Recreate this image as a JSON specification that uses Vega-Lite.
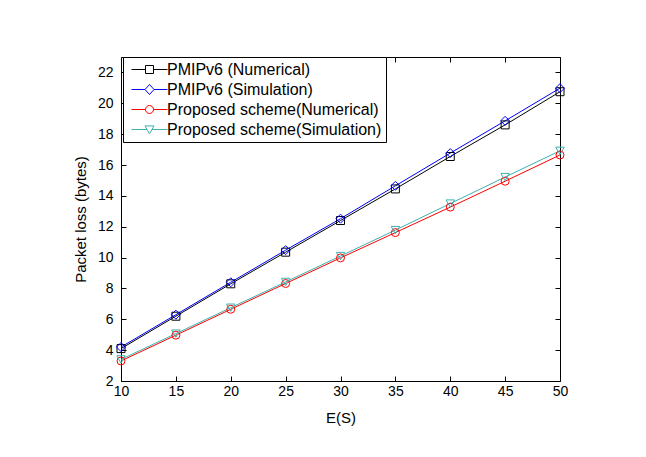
{
  "$schema": "https://vega.github.io/schema/vega-lite/v6.json",
  "width": 439,
  "height": 324,
  "autosize": "none",
  "padding": {"left": 121, "top": 57, "right": 86, "bottom": 76},
  "background": "white",
  "config": {
    "view": {"stroke": null},
    "font": "Liberation Sans",
    "axis": {
      "grid": false,
      "domainColor": "#000000",
      "tickColor": "#000000",
      "labelColor": "#000000",
      "titleColor": "#000000",
      "labelFont": "Liberation Sans",
      "titleFont": "Liberation Sans",
      "labelFontSize": 14,
      "titleFontSize": 15,
      "titleFontWeight": "normal",
      "tickSize": -5,
      "domainWidth": 1,
      "tickWidth": 1,
      "labelFlush": false
    }
  },
  "data": {
    "values": [
      {"E": 10, "loss": 4.1, "series": "PMIPv6 (Numerical)"},
      {"E": 15, "loss": 6.2, "series": "PMIPv6 (Numerical)"},
      {"E": 20, "loss": 8.3, "series": "PMIPv6 (Numerical)"},
      {"E": 25, "loss": 10.35, "series": "PMIPv6 (Numerical)"},
      {"E": 30, "loss": 12.4, "series": "PMIPv6 (Numerical)"},
      {"E": 35, "loss": 14.45, "series": "PMIPv6 (Numerical)"},
      {"E": 40, "loss": 16.55, "series": "PMIPv6 (Numerical)"},
      {"E": 45, "loss": 18.6, "series": "PMIPv6 (Numerical)"},
      {"E": 50, "loss": 20.75, "series": "PMIPv6 (Numerical)"},
      {"E": 10, "loss": 4.2, "series": "PMIPv6 (Simulation)"},
      {"E": 15, "loss": 6.3, "series": "PMIPv6 (Simulation)"},
      {"E": 20, "loss": 8.4, "series": "PMIPv6 (Simulation)"},
      {"E": 25, "loss": 10.48, "series": "PMIPv6 (Simulation)"},
      {"E": 30, "loss": 12.52, "series": "PMIPv6 (Simulation)"},
      {"E": 35, "loss": 14.65, "series": "PMIPv6 (Simulation)"},
      {"E": 40, "loss": 16.77, "series": "PMIPv6 (Simulation)"},
      {"E": 45, "loss": 18.86, "series": "PMIPv6 (Simulation)"},
      {"E": 50, "loss": 20.98, "series": "PMIPv6 (Simulation)"},
      {"E": 10, "loss": 3.3, "series": "Proposed scheme(Numerical)"},
      {"E": 15, "loss": 4.97, "series": "Proposed scheme(Numerical)"},
      {"E": 20, "loss": 6.65, "series": "Proposed scheme(Numerical)"},
      {"E": 25, "loss": 8.32, "series": "Proposed scheme(Numerical)"},
      {"E": 30, "loss": 9.98, "series": "Proposed scheme(Numerical)"},
      {"E": 35, "loss": 11.62, "series": "Proposed scheme(Numerical)"},
      {"E": 40, "loss": 13.27, "series": "Proposed scheme(Numerical)"},
      {"E": 45, "loss": 14.95, "series": "Proposed scheme(Numerical)"},
      {"E": 50, "loss": 16.65, "series": "Proposed scheme(Numerical)"},
      {"E": 10, "loss": 3.4, "series": "Proposed scheme(Simulation)"},
      {"E": 15, "loss": 5.07, "series": "Proposed scheme(Simulation)"},
      {"E": 20, "loss": 6.75, "series": "Proposed scheme(Simulation)"},
      {"E": 25, "loss": 8.42, "series": "Proposed scheme(Simulation)"},
      {"E": 30, "loss": 10.1, "series": "Proposed scheme(Simulation)"},
      {"E": 35, "loss": 11.78, "series": "Proposed scheme(Simulation)"},
      {"E": 40, "loss": 13.5, "series": "Proposed scheme(Simulation)"},
      {"E": 45, "loss": 15.22, "series": "Proposed scheme(Simulation)"},
      {"E": 50, "loss": 16.92, "series": "Proposed scheme(Simulation)"}
    ]
  },
  "layer": [
    {
      "mark": {"type": "line", "strokeWidth": 1},
      "encoding": {
        "x": {
          "field": "E", "type": "quantitative",
          "scale": {"domain": [10, 50], "nice": false, "zero": false},
          "axis": {"orient": "bottom", "values": [10, 15, 20, 25, 30, 35, 40, 45, 50], "title": "E(S)", "labelPadding": 8, "titlePadding": 12}
        },
        "y": {
          "field": "loss", "type": "quantitative",
          "scale": {"domain": [2, 23], "nice": false, "zero": false},
          "axis": {"orient": "left", "values": [2, 4, 6, 8, 10, 12, 14, 16, 18, 20, 22], "title": "Packet loss (bytes)", "labelPadding": 13, "titlePadding": 9}
        },
        "color": {
          "field": "series", "type": "nominal",
          "scale": {
            "domain": ["PMIPv6 (Numerical)", "PMIPv6 (Simulation)", "Proposed scheme(Numerical)", "Proposed scheme(Simulation)"],
            "range": ["#000000", "#0000ff", "#ff0000", "#3fb0b0"]
          },
          "legend": {
            "orient": "none",
            "legendX": 2,
            "legendY": 0,
            "title": null,
            "strokeColor": "#000000",
            "fillColor": "#ffffff",
            "padding": 4,
            "cornerRadius": 0,
            "labelFont": "Liberation Sans",
            "labelFontSize": 16,
            "labelColor": "#000000",
            "labelLimit": 0,
            "labelOffset": 9,
            "symbolOffset": 14,
            "symbolSize": 256,
            "symbolStrokeWidth": 1,
            "symbolFillColor": "#ffffff",
            "symbolOpacity": 1,
            "rowPadding": 3
          }
        }
      }
    },
    {
      "mark": {"type": "point", "filled": false, "strokeWidth": 1, "opacity": 0},
      "encoding": {
        "x": {
          "field": "E", "type": "quantitative",
          "axis": {"orient": "top", "values": [10, 15, 20, 25, 30, 35, 40, 45, 50], "labels": false, "title": null}
        },
        "y": {
          "field": "loss", "type": "quantitative",
          "axis": {"orient": "right", "values": [2, 4, 6, 8, 10, 12, 14, 16, 18, 20, 22], "labels": false, "title": null}
        },
        "color": {"field": "series", "type": "nominal"},
        "shape": {
          "field": "series", "type": "nominal",
          "scale": {
            "domain": ["PMIPv6 (Numerical)", "PMIPv6 (Simulation)", "Proposed scheme(Numerical)", "Proposed scheme(Simulation)"],
            "range": [
              "M-2.25,0H-0.5M0.5,0H2.25M-0.5,-0.5H0.5V0.5H-0.5Z",
              "M-2.25,0H-0.5625M0.5625,0H2.25M-0.5625,0L0,-0.625L0.5625,0L0,0.625Z",
              "M-2.25,0H-0.5M0.5,0H2.25M-0.5,0A0.5,0.5,0,1,0,0.5,0A0.5,0.5,0,1,0,-0.5,0Z",
              "M-2.25,0H-0.31M0.31,0H2.25M-0.5625,-0.45H0.5625L0,0.55Z"
            ]
          }
        },
        "size": {"value": 64}
      }
    },
    {
      "transform": [{"filter": "datum.series === 'PMIPv6 (Numerical)'"}],
      "mark": {"type": "point", "shape": "square", "filled": false, "strokeWidth": 1, "opacity": 1, "size": 64},
      "encoding": {
        "x": {"field": "E", "type": "quantitative", "axis": null},
        "y": {"field": "loss", "type": "quantitative", "axis": null},
        "color": {"field": "series", "type": "nominal", "legend": null}
      }
    },
    {
      "transform": [{"filter": "datum.series === 'PMIPv6 (Simulation)'"}],
      "mark": {"type": "point", "shape": "diamond", "filled": false, "strokeWidth": 1, "opacity": 1, "size": 81},
      "encoding": {
        "x": {"field": "E", "type": "quantitative", "axis": null},
        "y": {"field": "loss", "type": "quantitative", "axis": null},
        "color": {"field": "series", "type": "nominal", "legend": null}
      }
    },
    {
      "transform": [{"filter": "datum.series === 'Proposed scheme(Numerical)'"}],
      "mark": {"type": "point", "shape": "circle", "filled": false, "strokeWidth": 1, "opacity": 1, "size": 64},
      "encoding": {
        "x": {"field": "E", "type": "quantitative", "axis": null},
        "y": {"field": "loss", "type": "quantitative", "axis": null},
        "color": {"field": "series", "type": "nominal", "legend": null}
      }
    },
    {
      "transform": [{"filter": "datum.series === 'Proposed scheme(Simulation)'"}],
      "mark": {"type": "point", "shape": "triangle-down", "filled": false, "strokeWidth": 1, "opacity": 1, "size": 72},
      "encoding": {
        "x": {"field": "E", "type": "quantitative", "axis": null},
        "y": {"field": "loss", "type": "quantitative", "axis": null},
        "color": {"field": "series", "type": "nominal", "legend": null}
      }
    }
  ],
  "resolve": {"axis": {"x": "independent", "y": "independent"}}
}
